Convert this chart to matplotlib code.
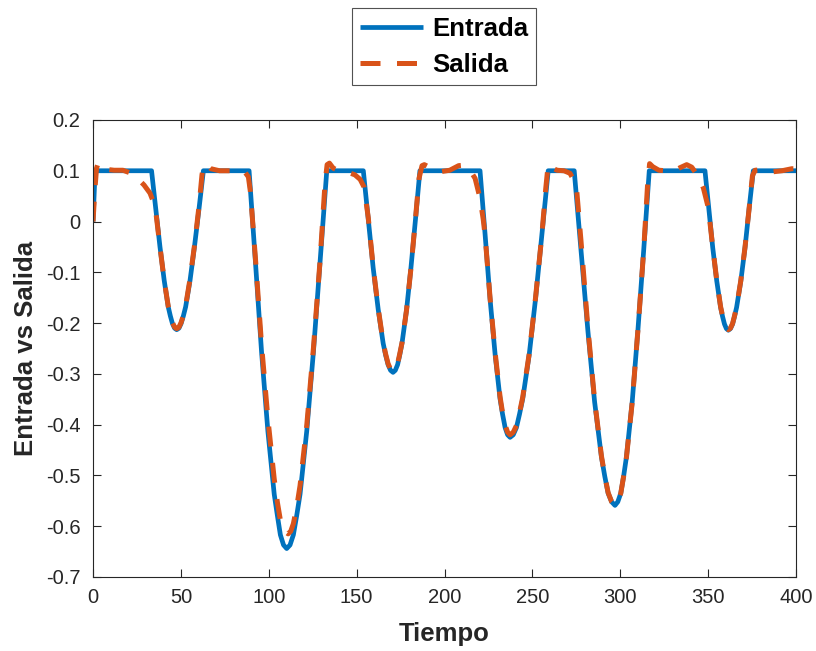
import matplotlib
matplotlib.use("Agg")
import matplotlib.pyplot as plt

plt.rcParams['font.family'] = ['Liberation Sans', 'DejaVu Sans']
plt.rcParams['axes.unicode_minus'] = False

# Entrada: reference signal, (time, value) pairs
entrada_pts = [
    (0.0, 0.0), (1.2, 0.1),
    (33.3, 0.1), (35.7, 0.025), (38.1, -0.050), (40.5, -0.116), (42.8, -0.168), (44.0, -0.186),
    (45.2, -0.201), (46.4, -0.210), (47.6, -0.213), (48.9, -0.210), (50.1, -0.201), (51.4, -0.186),
    (52.7, -0.168), (55.2, -0.116), (57.7, -0.050), (60.3, 0.025), (62.8, 0.1),
    (88.8, 0.1), (92.4, -0.079), (95.9, -0.257), (99.5, -0.413), (103.1, -0.537), (104.9, -0.579),
    (106.6, -0.617), (108.4, -0.637), (110.2, -0.644), (112.1, -0.637), (114.0, -0.617), (115.9, -0.579),
    (117.8, -0.537), (121.6, -0.413), (125.4, -0.257), (129.2, -0.079), (133.0, 0.1),
    (153.8, 0.1), (156.6, 0.005), (159.4, -0.091), (162.3, -0.174), (165.1, -0.240), (166.5, -0.263),
    (167.9, -0.282), (169.3, -0.293), (170.7, -0.297), (172.0, -0.293), (173.3, -0.282), (174.5, -0.263),
    (175.8, -0.240), (178.4, -0.174), (180.9, -0.091), (183.5, 0.005), (186.0, 0.1),
    (220.2, 0.1), (223.1, -0.026), (225.9, -0.152), (228.8, -0.262), (231.6, -0.349), (233.0, -0.379),
    (234.5, -0.406), (235.9, -0.420), (237.3, -0.425), (239.1, -0.420), (240.9, -0.406), (242.7, -0.379),
    (244.5, -0.349), (248.2, -0.262), (251.8, -0.152), (255.4, -0.026), (259.0, 0.1),
    (273.8, 0.1), (277.7, -0.058), (281.6, -0.216), (285.4, -0.355), (289.3, -0.464), (291.2, -0.502),
    (293.1, -0.535), (295.1, -0.552), (297.0, -0.559), (298.6, -0.552), (300.3, -0.535), (301.9, -0.502),
    (303.5, -0.464), (306.8, -0.355), (310.0, -0.216), (313.3, -0.058), (316.5, 0.1),
    (348.2, 0.1), (350.4, 0.025), (352.6, -0.051), (354.9, -0.117), (357.1, -0.169), (358.2, -0.187),
    (359.3, -0.202), (360.4, -0.211), (361.5, -0.214), (362.7, -0.211), (363.9, -0.202), (365.0, -0.187),
    (366.2, -0.169), (368.6, -0.117), (371.0, -0.051), (373.3, 0.025), (375.7, 0.1),
    (400.0, 0.1),
]

# Salida: system response, (time, value) pairs
salida_pts = [
    (0.0, 0.0), (1.0, 0.060), (2.0, 0.105), (3.0, 0.116), (4.5, 0.110), (7.0, 0.103), (12.0, 0.101),
    (17.0, 0.101), (21.0, 0.096), (25.0, 0.086), (29.0, 0.072), (32.4, 0.056), (34.2, 0.040), (35.7, 0.020),
    (38.1, -0.050), (40.5, -0.116), (42.8, -0.167), (44.0, -0.185), (45.2, -0.199), (46.4, -0.208),
    (47.6, -0.211), (48.9, -0.208), (50.1, -0.199), (51.4, -0.185), (52.7, -0.166), (55.2, -0.113),
    (57.7, -0.048), (60.3, 0.030), (62.0, 0.092), (63.0, 0.113), (64.5, 0.112), (67.0, 0.104),
    (72.0, 0.100), (84.0, 0.100), (86.5, 0.097), (88.4, 0.088), (89.5, 0.060),
    (92.4, -0.072), (95.9, -0.243), (99.5, -0.388), (103.1, -0.507), (104.9, -0.553), (106.6, -0.588),
    (108.6, -0.609), (111.0, -0.615), (112.5, -0.610), (114.0, -0.595), (115.9, -0.562), (117.8, -0.520),
    (121.6, -0.402), (125.4, -0.250), (129.2, -0.076), (132.0, 0.075), (133.2, 0.112), (134.5, 0.115),
    (136.7, 0.105), (140.0, 0.100), (145.0, 0.097), (149.0, 0.092), (152.0, 0.083), (154.2, 0.068),
    (156.6, 0.008),
    (159.4, -0.089), (162.3, -0.172), (165.1, -0.238), (166.5, -0.261), (167.9, -0.280), (169.3, -0.291),
    (170.7, -0.295), (172.0, -0.291), (173.3, -0.280), (174.5, -0.261), (175.8, -0.239), (178.4, -0.174),
    (180.9, -0.092), (183.5, 0.006), (185.5, 0.085), (187.2, 0.110), (188.5, 0.112), (192.0, 0.106),
    (197.4, 0.098), (203.0, 0.101), (208.0, 0.110), (211.0, 0.111), (214.0, 0.104), (217.4, 0.085),
    (220.2, 0.046), (222.0, 0.005),
    (223.1, -0.028), (225.9, -0.150), (228.8, -0.258), (231.6, -0.345), (233.0, -0.376), (234.5, -0.401),
    (235.9, -0.415), (237.3, -0.420), (239.1, -0.415), (240.9, -0.402), (242.7, -0.376), (244.5, -0.346),
    (248.2, -0.260), (251.8, -0.150), (255.4, -0.026), (257.6, 0.065), (259.0, 0.113), (261.0, 0.106),
    (264.0, 0.101), (268.0, 0.100), (271.4, 0.095), (273.8, 0.080), (275.2, 0.062),
    (277.7, -0.040), (281.6, -0.210), (285.4, -0.352), (289.3, -0.462), (291.2, -0.501), (293.1, -0.534),
    (295.1, -0.552), (297.0, -0.559), (298.6, -0.552), (300.3, -0.535), (301.9, -0.502), (303.5, -0.465),
    (306.8, -0.356), (310.0, -0.216), (313.3, -0.058), (315.5, 0.070), (316.7, 0.114), (318.5, 0.108),
    (322.0, 0.101), (330.0, 0.099), (334.0, 0.106), (337.8, 0.112), (340.7, 0.107), (344.5, 0.088),
    (347.3, 0.066), (350.1, 0.027),
    (352.6, -0.050), (354.9, -0.116), (357.1, -0.168), (358.2, -0.186), (359.3, -0.201), (360.4, -0.210),
    (361.5, -0.213), (362.7, -0.210), (363.9, -0.201), (365.0, -0.186), (366.2, -0.168), (368.6, -0.116),
    (371.0, -0.050), (373.3, 0.025), (375.2, 0.090), (376.7, 0.101), (380.0, 0.102), (387.0, 0.098),
    (392.0, 0.100), (397.6, 0.104), (400.0, 0.104),
]

x_ticks = [0, 50, 100, 150, 200, 250, 300, 350, 400]
y_ticks = [-0.7, -0.6, -0.5, -0.4, -0.3, -0.2, -0.1, 0, 0.1, 0.2]
y_tick_labels = ["-0.7", "-0.6", "-0.5", "-0.4", "-0.3", "-0.2", "-0.1", "0", "0.1", "0.2"]

BLUE = "#0072BD"
ORANGE = "#D95319"
DARK = "#262626"

entrada_t, entrada_v = zip(*entrada_pts)
salida_t, salida_v = zip(*salida_pts)

fig = plt.figure(figsize=(8.16, 6.51), dpi=100)
ax = fig.add_axes([0.114, 0.1137, 0.8615, 0.702])

ax.plot(entrada_t, entrada_v, color=BLUE, lw=3.4, label="Entrada",
        solid_joinstyle="round", solid_capstyle="butt")
ax.plot(salida_t, salida_v, color=ORANGE, lw=3.6, label="Salida",
        linestyle=(0, (4.0, 3.3)), dash_capstyle="butt", dash_joinstyle="round")

ax.set_xlim(0, 400)
ax.set_ylim(-0.7, 0.2)
ax.set_xticks(x_ticks)
ax.set_xticklabels([str(v) for v in x_ticks])
ax.set_yticks(y_ticks)
ax.set_yticklabels(y_tick_labels)

ax.tick_params(direction="in", length=6, width=0.8, colors=DARK, labelsize=14.5,
               top=True, right=True)
ax.tick_params(axis="x", pad=8)
ax.tick_params(axis="y", pad=9)
for s in ax.spines.values():
    s.set_color(DARK)
    s.set_linewidth(0.8)

ax.set_xlabel("Tiempo", fontsize=18.5, fontweight="bold", color=DARK, labelpad=11)
ax.set_ylabel("Entrada vs Salida", fontsize=18.5, fontweight="bold", color=DARK, labelpad=6)

leg = fig.legend(loc="upper center", bbox_to_anchor=(0.544, 0.995),
                 prop={"weight": "bold", "size": 18.5}, frameon=True, fancybox=False,
                 edgecolor=DARK, handlelength=2.45, handletextpad=0.35, labelspacing=0.48,
                 borderpad=0.32, borderaxespad=0.2)
leg.get_frame().set_linewidth(0.8)

fig.savefig("out.png", dpi=100)
